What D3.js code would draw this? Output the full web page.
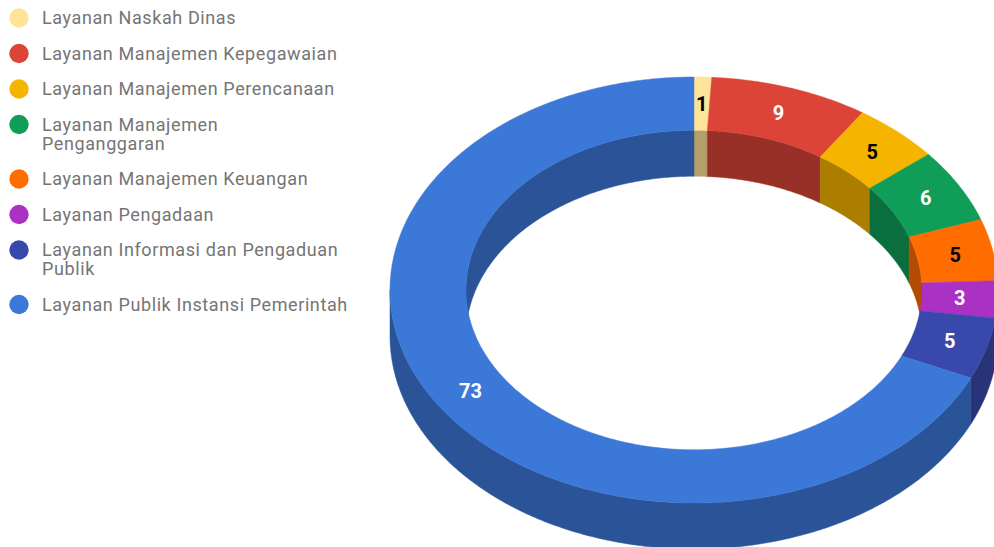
<!DOCTYPE html>
<html>
<head>
<meta charset="utf-8">
<script src="https://cdn.jsdelivr.net/npm/d3@7"></script>
<style>
  html, body { margin: 0; padding: 0; background: #fff; }
  svg { display: block; font-family: Roboto, "Noto Sans", sans-serif; }
</style>
</head>
<body>
<svg id="chart" width="994" height="547"></svg>
<script>
// data
const categories = [
    "Layanan Naskah Dinas",
    "Layanan Manajemen Kepegawaian",
    "Layanan Manajemen Perencanaan",
    "Layanan Manajemen Penganggaran",
    "Layanan Manajemen Keuangan",
    "Layanan Pengadaan",
    "Layanan Informasi dan Pengaduan Publik",
    "Layanan Publik Instansi Pemerintah"
];
const values = [1, 9, 5, 6, 5, 3, 5, 73];
const colors = ["#ffe398", "#db4437", "#f4b400", "#0f9d58", "#ff6d00", "#ab30c4", "#3949ab", "#3c78d8"];
// how the legend wraps the long names
const legendLines = [
    ["Layanan Naskah Dinas"],
    ["Layanan Manajemen Kepegawaian"],
    ["Layanan Manajemen Perencanaan"],
    ["Layanan Manajemen", "Penganggaran"],
    ["Layanan Manajemen Keuangan"],
    ["Layanan Pengadaan"],
    ["Layanan Informasi dan Pengaduan", "Publik"],
    ["Layanan Publik Instansi Pemerintah"]
];

let svg = d3.select("#chart");

// 3d donut geometry
let cx = 694, cy = 290;
let rx = 304, ry = 213;
let depth = 46;
let holeRatio = 0.75;

let rScale = d3.scaleLinear().domain([0, 1]).range([0, 1]);

let pie = d3.pie().sort(null).value(d => d);
let arcs = pie(values);

function pt(a, r, dy) {
    return [cx + rScale(r) * rx * Math.sin(a), cy - rScale(r) * ry * Math.cos(a) + (dy || 0)];
}

function samples(a0, a1) {
    let n = Math.max(2, Math.ceil(Math.abs(a1 - a0) / 0.01));
    let out = [];
    for (let i = 0; i <= n; i++) out.push(a0 + (a1 - a0) * i / n);
    return out;
}

// wall of the ring between angles a0..a1 at radius r
function wallPath(a0, a1, r) {
    let p = d3.path();
    let top = samples(a0, a1).map(a => pt(a, r, 0));
    let bot = samples(a0, a1).reverse().map(a => pt(a, r, depth));
    top.concat(bot).forEach((q, i) => i === 0 ? p.moveTo(q[0], q[1]) : p.lineTo(q[0], q[1]));
    p.closePath();
    return p.toString();
}

function topPath(a0, a1) {
    let p = d3.path();
    let outer = samples(a0, a1).map(a => pt(a, 1, 0));
    let inner = samples(a0, a1).reverse().map(a => pt(a, holeRatio, 0));
    outer.concat(inner).forEach((q, i) => i === 0 ? p.moveTo(q[0], q[1]) : p.lineTo(q[0], q[1]));
    p.closePath();
    return p.toString();
}

function clip(a0, a1, lo, hi) {
    let s = Math.max(a0, lo), e = Math.min(a1, hi);
    return s < e ? [s, e] : null;
}

let sideColor = c => d3.rgb(c).darker(1).toString();

let g = svg.append("g");

// inner walls (back half, visible through the hole)
arcs.forEach((d, i) => {
    [[0, Math.PI / 2], [1.5 * Math.PI, 2 * Math.PI]].forEach(rg => {
        let c = clip(d.startAngle, d.endAngle, rg[0], rg[1]);
        if (c) g.append("path").attr("d", wallPath(c[0], c[1], holeRatio))
            .attr("fill", sideColor(colors[i])).attr("stroke", sideColor(colors[i])).attr("stroke-width", 0.5);
    });
});

// outer walls (front half)
arcs.forEach((d, i) => {
    let c = clip(d.startAngle, d.endAngle, Math.PI / 2, 1.5 * Math.PI);
    if (c) g.append("path").attr("d", wallPath(c[0], c[1], 1))
        .attr("fill", sideColor(colors[i])).attr("stroke", sideColor(colors[i])).attr("stroke-width", 0.5);
});

// top faces
arcs.forEach((d, i) => {
    g.append("path").attr("d", topPath(d.startAngle, d.endAngle))
        .attr("fill", colors[i]).attr("stroke", colors[i]).attr("stroke-width", 0.5);
});

// value labels
function lum(c) {
    let r = d3.rgb(c);
    let f = v => { v /= 255; return v <= 0.03928 ? v / 12.92 : Math.pow((v + 0.055) / 1.055, 2.4); };
    return 0.2126 * f(r.r) + 0.7152 * f(r.g) + 0.0722 * f(r.b);
}
arcs.forEach((d, i) => {
    let m = (d.startAngle + d.endAngle) / 2;
    let q = pt(m, (1 + holeRatio) / 2, 0);
    g.append("text")
        .attr("x", q[0]).attr("y", q[1])
        .attr("dy", "0.35em")
        .attr("text-anchor", "middle")
        .attr("font-size", 20)
        .attr("font-weight", "bold")
        .attr("fill", lum(colors[i]) > 0.28 ? "#000" : "#fff")
        .text(d.data);
});

// legend
let legend = svg.append("g");
let rowY = 18;
legendLines.forEach((lines, i) => {
    legend.append("circle").attr("cx", 19).attr("cy", rowY).attr("r", 9.7).attr("fill", colors[i]);
    lines.forEach((ln, j) => {
        legend.append("text")
            .attr("x", 42).attr("y", rowY + j * 19)
            .attr("dy", "0.35em")
            .attr("font-size", 18)
            .attr("letter-spacing", 0.6)
            .attr("fill", "#757575")
            .text(ln);
    });
    rowY += 35.5 + (lines.length - 1) * 19;
});
</script>
</body>
</html>
